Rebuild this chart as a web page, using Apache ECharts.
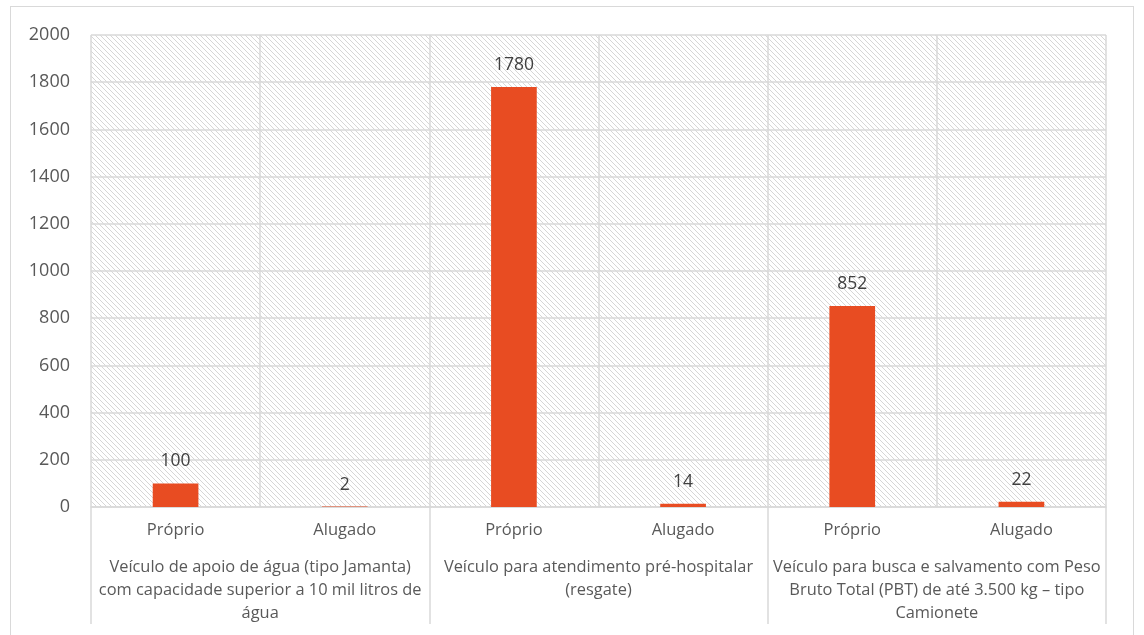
<!DOCTYPE html>
<html>
<head>
<meta charset="utf-8">
<script src="https://cdn.jsdelivr.net/npm/echarts@6/dist/echarts.min.js"></script>
<style>
html,body{margin:0;padding:0;background:#fff;}
#frame{position:absolute;left:10px;top:6px;width:1124px;height:640px;border:1.5px solid #d9d9d9;box-sizing:border-box;}
#chart{position:absolute;left:0;top:0;width:1144px;height:635px;}
</style>
</head>
<body>
<div id="frame"></div>
<div id="chart"></div>
<script>
const subCategories = ['Próprio', 'Alugado', 'Próprio', 'Alugado', 'Próprio', 'Alugado'];
const groups = [
  'Veículo de apoio de água (tipo Jamanta)\ncom capacidade superior a 10 mil litros de\nágua',
  'Veículo para atendimento pré-hospitalar\n(resgate)',
  'Veículo para busca e salvamento com Peso\nBruto Total (PBT) de até 3.500 kg – tipo\nCamionete'
];
const values = [100, 2, 1780, 14, 852, 22];
const yMin = 0, yMax = 2000, yInterval = 200;

// hatch pattern tile
const tile = document.createElement('canvas');
tile.width = 5; tile.height = 5;
const tc = tile.getContext('2d');
tc.fillStyle = '#ffffff';
tc.fillRect(0, 0, 5, 5);
tc.fillStyle = '#d6d6d6';
for (let i = 0; i < 5; i++) { tc.fillRect(i, i, 1, 1); }

const font = 'Open Sans';
const chart = echarts.init(document.getElementById('chart'));
chart.setOption({
  animation: false,
  grid: {
    left: 91, right: 38, top: 35, bottom: 128,
    show: true, borderWidth: 0,
    backgroundColor: { image: tile, repeat: 'repeat' }
  },
  xAxis: [
    {
      type: 'category', data: subCategories, gridIndex: 0, position: 'bottom',
      axisLine: { show: true, lineStyle: { color: '#d9d9d9', width: 1.5 } },
      axisTick: { show: false },
      splitLine: { show: true, interval: 0, lineStyle: { color: '#d9d9d9', width: 1.5 } },
      axisLabel: { interval: 0, margin: 15, color: '#595959', fontSize: 16.5, fontFamily: font }
    },
    {
      type: 'category', data: groups, gridIndex: 0, position: 'bottom',
      axisLine: { show: false },
      axisTick: { show: true, interval: 0, length: 117, lineStyle: { color: '#d9d9d9', width: 1.5 } },
      axisLabel: { interval: 0, margin: 49, color: '#595959', fontSize: 16.4, lineHeight: 23, fontFamily: font, align: 'center' }
    }
  ],
  yAxis: {
    type: 'value', min: yMin, max: yMax, interval: yInterval,
    axisLine: { show: false }, axisTick: { show: false },
    splitLine: { lineStyle: { color: '#d9d9d9', width: 1.5 } },
    axisLabel: { margin: 21, color: '#595959', fontSize: 18, fontFamily: font, formatter: v => String(v) }
  },
  series: [{
    type: 'bar', data: values, xAxisIndex: 0, barWidth: '27%',
    itemStyle: { color: '#E84C22' },
    label: { show: true, position: 'top', distance: 13, color: '#404040', fontSize: 17.5, fontFamily: font }
  }]
});
</script>
</body>
</html>
